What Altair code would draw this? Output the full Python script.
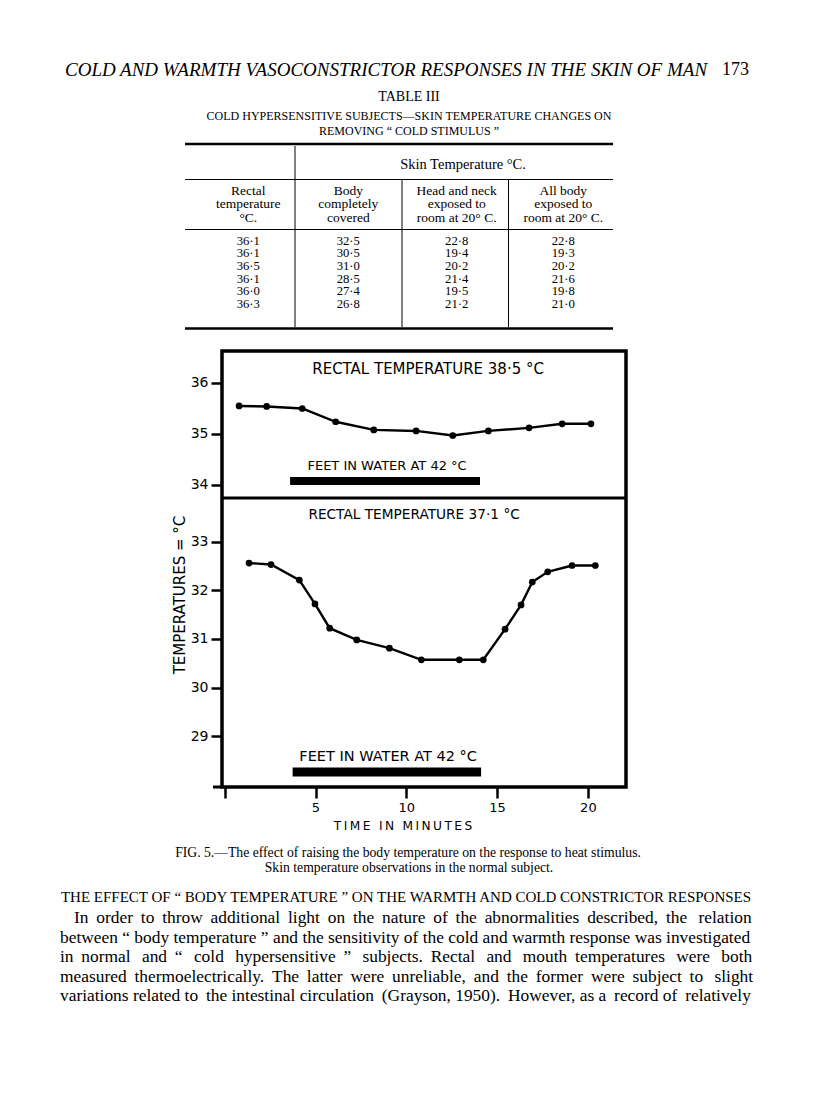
import altair as alt
import pandas as pd

# ---------------- data ----------------
top_minutes = [0.79, 2.31, 4.27, 6.11, 8.21, 10.54, 12.56, 14.52, 16.76, 18.58, 20.17]
top_temps = [35.55, 35.54, 35.50, 35.24, 35.08, 35.06, 34.97, 35.06, 35.12, 35.20, 35.20]

bottom_minutes = [1.34, 2.55, 4.11, 4.97, 5.78, 7.27, 9.07, 10.83, 12.92, 14.24,
                  15.44, 16.32, 16.94, 17.79, 19.13, 20.41]
bottom_temps = [32.56, 32.53, 32.21, 31.72, 31.22, 30.98, 30.81, 30.57, 30.57, 30.57,
                31.20, 31.70, 32.17, 32.38, 32.51, 32.51]

top_water_start, top_water_end, top_water_level = 3.60, 14.06, 34.08
bottom_water_start, bottom_water_end, bottom_water_level = 3.74, 14.12, 28.26

x_ticks = [0, 5, 10, 15, 20]
top_y_ticks = [34, 35, 36]
bottom_y_ticks = [29, 30, 31, 32, 33]

# Table III
rectal = ["36·1", "36·1", "36·5", "36·1", "36·0", "36·3"]
covered = ["32·5", "30·5", "31·0", "28·5", "27·4", "26·8"]
head_neck = ["22·8", "19·4", "20·2", "21·4", "19·5", "21·2"]
all_body = ["22·8", "19·3", "20·2", "21·6", "19·8", "21·0"]
table_heads = ["Rectal\ntemperature\n°C.", "Body\ncompletely\ncovered",
               "Head and neck\nexposed to\nroom at 20° C.", "All body\nexposed to\nroom at 20° C."]

body_lines = [
    "In order to throw additional light on the nature of the abnormalities described, the relation",
    "between “ body temperature ” and the sensitivity of the cold and warmth response was investigated",
    "in normal and “ cold hypersensitive ” subjects. Rectal and mouth temperatures were both",
    "measured thermoelectrically. The latter were unreliable, and the former were subject to slight",
    "variations related to the intestinal circulation (Grayson, 1950). However, as a record of relatively",
]
# extra thin spaces per line to imitate the justified setting
body_extra = [15, 0, 21, 13, 5]

# ---------------- layout ----------------
OX, OY = 222, 351          # page position of the plot area's top-left corner
W, H = 404, 436            # plot area
TOP_H = 147                # height of the upper panel
SANS = "DejaVu Sans"
SERIF = "Liberation Serif"

one = pd.DataFrame({"a": [0]})

x_axis = alt.Axis(values=x_ticks, labelExpr="datum.value == 0 ? '' : datum.label",
                  tickSize=11, tickWidth=2.5, tickColor="black", domain=False, grid=False,
                  labelFont=SANS, labelFontSize=13, labelColor="black", labelPadding=3,
                  title=None)
x_scale = alt.Scale(domain=[-0.15, 22.1], nice=False, zero=False)
X = lambda f: alt.X(f + ":Q", scale=x_scale, axis=x_axis)


def y_axis(vals):
    return alt.Axis(orient="left", values=vals, tickSize=11, tickWidth=2.5, tickColor="black",
                    domain=False, grid=False, labelFont=SANS, labelFontSize=14,
                    labelColor="black", labelPadding=3, title=None)


top_scale = alt.Scale(domain=[33.745, 36.627], range=[TOP_H, 0], nice=False, zero=False)
bot_scale = alt.Scale(domain=[27.953, 33.899], range=[H, TOP_H], nice=False, zero=False)


def panel(minutes, temps, scale, yvals, ws, we, wl, wwidth, rect_lbl, rect_pos, rect_size,
          feet_pos, feet_size):
    d = pd.DataFrame({"minute": minutes, "temp": temps})
    Y = alt.Y("temp:Q", scale=scale, axis=y_axis(yvals))
    line = alt.Chart(d).mark_line(color="black", strokeWidth=2.4).encode(x=X("minute"), y=Y)
    pts = alt.Chart(d).mark_point(filled=True, color="black", size=45, opacity=1).encode(
        x=X("minute"), y=Y)
    wd = pd.DataFrame({"start": [ws], "end": [we], "temp": [wl]})
    bar = alt.Chart(wd).mark_rule(color="black", strokeWidth=wwidth, strokeCap="butt").encode(
        x=X("start"), x2="end", y=Y)
    ld = pd.DataFrame({"minute": [rect_pos[0], feet_pos[0]], "temp": [rect_pos[1], feet_pos[1]],
                       "label": [rect_lbl, "FEET IN WATER AT 42 °C"]})
    t1 = alt.Chart(ld.iloc[[0]]).mark_text(font=SANS, fontSize=rect_size, color="black",
                                           baseline="middle").encode(
        x=X("minute"), y=Y, text="label:N")
    t2 = alt.Chart(ld.iloc[[1]]).mark_text(font=SANS, fontSize=feet_size, color="black",
                                           baseline="middle").encode(
        x=X("minute"), y=Y, text="label:N")
    return alt.layer(line, pts, bar, t1, t2)


top = panel(top_minutes, top_temps, top_scale, top_y_ticks,
            top_water_start, top_water_end, top_water_level, 8,
            "RECTAL TEMPERATURE 38·5 °C", (11.2, 36.27), 15, (8.94, 34.37), 13)
bottom = panel(bottom_minutes, bottom_temps, bot_scale, bottom_y_ticks,
               bottom_water_start, bottom_water_end, bottom_water_level, 9,
               "RECTAL TEMPERATURE 37·1 °C", (10.43, 33.55), 13.7, (9.0, 28.57), 14.5)


def rule(px1, py1, px2, py2, w):
    return alt.Chart(one).mark_rule(color="black", strokeWidth=w, strokeCap="butt").encode(
        x=alt.value(px1 - OX), y=alt.value(py1 - OY), x2=alt.value(px2 - OX), y2=alt.value(py2 - OY))


def txt(s, px, py, size, font=SERIF, align="left", style="normal", angle=0, lh=None):
    kw = dict(align=align, baseline="middle", font=font, fontSize=size, fontStyle=style,
              color="black", angle=angle, lineBreak="\n")
    if lh:
        kw["lineHeight"] = lh
    return alt.Chart(one).mark_text(**kw).encode(
        x=alt.value(px - OX), y=alt.value(py - OY), text=alt.value(s))


def spaced(s):
    return "\u2009".join(s)


def justify(line, extra):
    words = line.split(" ")
    gaps = len(words) - 1
    out = words[0]
    for i, w in enumerate(words[1:]):
        n = extra * (i + 1) // gaps - extra * i // gaps
        out += " " + "\u2009" * n + w
    return out


frame = [
    rule(OX, OY + TOP_H, OX + W, OY + TOP_H, 3),       # panel divider
    rule(213, OY + H, OX, OY + H, 3),                   # x axis stub left of the frame
    txt("TEMPERATURES = °C", 180, 595, 15, font=SANS, align="center", angle=270),
    txt(spaced("TIME") + "\u2002\u2009" + spaced("IN") + "\u2002\u2009" + spaced("MINUTES"),
        403, 826, 12.2, font=SANS, align="center"),
]

page = [
    txt("COLD AND WARMTH VASOCONSTRICTOR RESPONSES IN THE SKIN OF MAN", 65, 70, 19, style="italic"),
    txt("173", 722, 70, 18),
    txt("TABLE III", 409, 97, 14, align="center"),
    txt("COLD HYPERSENSITIVE SUBJECTS—SKIN TEMPERATURE CHANGES ON", 409, 116, 12, align="center"),
    txt("REMOVING “ COLD STIMULUS ”", 409, 131, 12, align="center"),
    rule(185, 144, 613, 144, 2.5),
    rule(185, 179.5, 613, 179.5, 1),
    rule(185, 229.5, 613, 229.5, 1),
    rule(185, 328.5, 613, 328.5, 2.5),
    rule(295, 146, 295, 327, 1),
    rule(402, 180, 402, 327, 1),
    rule(508.5, 180, 508.5, 327, 1),
    txt("Skin Temperature °C.", 463, 165, 14.5, align="center"),
    txt(table_heads[0], 248.3, 190.5, 13.5, align="center", lh=13.6),
    txt(table_heads[1], 348.3, 190.5, 13.5, align="center", lh=13.6),
    txt(table_heads[2], 456.7, 190.5, 13.5, align="center", lh=13.6),
    txt(table_heads[3], 563.3, 190.5, 13.5, align="center", lh=13.6),
    txt("\n".join(rectal), 248.3, 240.5, 12.7, align="center", lh=12.7),
    txt("\n".join(covered), 348.3, 240.5, 12.7, align="center", lh=12.7),
    txt("\n".join(head_neck), 456.7, 240.5, 12.7, align="center", lh=12.7),
    txt("\n".join(all_body), 563.3, 240.5, 12.7, align="center", lh=12.7),
    txt("FIG. 5.—The effect of raising the body temperature on the response to heat stimulus.",
        408, 853, 13.7, align="center"),
    txt("Skin temperature observations in the normal subject.", 409, 868, 13.7, align="center"),
    txt("THE EFFECT OF “ BODY TEMPERATURE ” ON THE WARMTH AND COLD CONSTRICTOR RESPONSES",
        406, 897, 15, align="center"),
]
for i, ln in enumerate(body_lines):
    page.append(txt(justify(ln, body_extra[i]), 74 if i == 0 else 60, 918 + 19.5 * i, 17.4))

chart = alt.layer(top, bottom, *frame, *page).resolve_scale(y="independent").properties(
    width=W, height=H,
    autosize=alt.AutoSizeParams(type="none"),
    padding={"left": OX - 8, "top": OY - 8, "right": 816 - 16 - OX - W + 8, "bottom": 290},
    background="white",
).configure_view(stroke="black", strokeWidth=3.5)

chart.save("out.html", embed_options={"renderer": "svg", "actions": False})
